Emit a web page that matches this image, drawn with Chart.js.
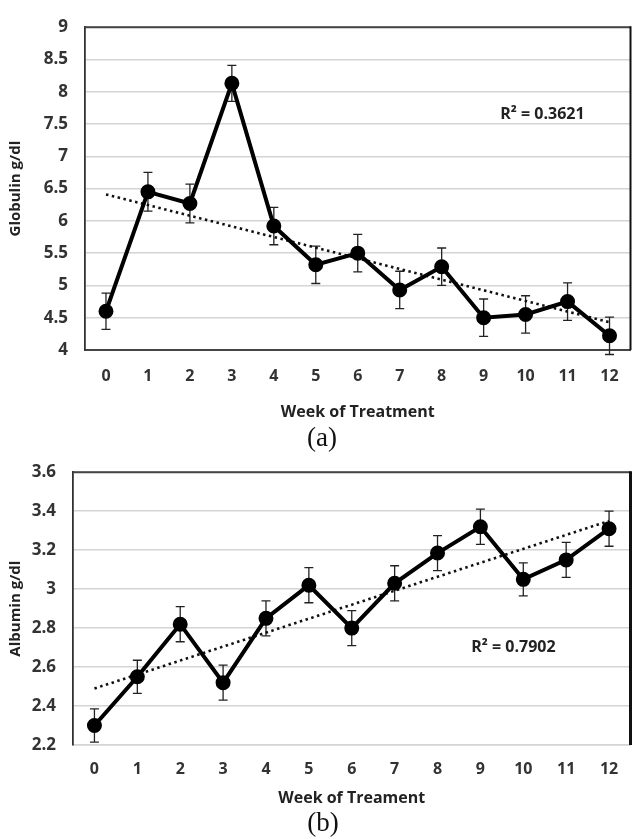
<!DOCTYPE html>
<html>
<head>
<meta charset="utf-8">
<script src="https://cdn.jsdelivr.net/npm/chart.js@4.4.1/dist/chart.umd.min.js"></script>
<style>
  body { margin: 0; background: #fff; width: 640px; height: 839px; position: relative; overflow: hidden; }
  .box { position: absolute; left: 0; width: 640px; }
  .cap { position: absolute; width: 60px; text-align: center; font-family: "Liberation Serif", serif; font-size: 27px; color: #111; line-height: 30px; }
</style>
</head>
<body>
<div class="box" style="top:0;height:425px"><canvas id="grafico1"></canvas></div>
<div class="cap" style="left:292px;top:422px">(a)</div>
<div class="box" style="top:445px;height:368px"><canvas id="grafico2"></canvas></div>
<div class="cap" style="left:293px;top:807px">(b)</div>
<script>
// dados
const semanas = ["0", "1", "2", "3", "4", "5", "6", "7", "8", "9", "10", "11", "12"]

const globulina = [4.6, 6.45, 6.27, 8.13, 5.92, 5.32, 5.5, 4.93, 5.29, 4.5, 4.55, 4.75, 4.22]
const globulinaErro = [0.28, 0.3, 0.3, 0.28, 0.29, 0.29, 0.29, 0.29, 0.29, 0.29, 0.29, 0.29, 0.29]
const globulinaTendencia = [6.41, 4.43]   // semana 0, semana 12

const albumina = [2.3, 2.55, 2.82, 2.52, 2.85, 3.02, 2.8, 3.03, 3.185, 3.32, 3.05, 3.15, 3.31]
const albuminaErro = [0.085, 0.085, 0.09, 0.09, 0.09, 0.09, 0.09, 0.09, 0.09, 0.09, 0.085, 0.09, 0.09]
const albuminaTendencia = [2.49, 3.35]

const ticksGlob = { min: 4, max: 9, step: 0.5 }
const ticksAlb = { min: 2.2, max: 3.6, step: 0.2 }

const fonte = "Open Sans"

function linhaTendencia(t) {
    return semanas.map((s, i) => i === 0 ? t[0] : (i === semanas.length - 1 ? t[1] : null))
}

// barras de erro + moldura + texto R²
const extras = {
    id: 'extras',
    beforeDatasetsDraw(chart, args, opts) {
        const ctx = chart.ctx
        const y = chart.scales.y
        const meta = chart.getDatasetMeta(0)
        const vals = chart.data.datasets[0].data
        ctx.save()
        ctx.strokeStyle = '#222'
        ctx.lineWidth = 1.3
        meta.data.forEach((p, i) => {
            const top = y.getPixelForValue(vals[i] + opts.erro[i])
            const bot = y.getPixelForValue(vals[i] - opts.erro[i])
            ctx.beginPath()
            ctx.moveTo(p.x, top); ctx.lineTo(p.x, bot)
            ctx.moveTo(p.x - 4.5, top); ctx.lineTo(p.x + 4.5, top)
            ctx.moveTo(p.x - 4.5, bot); ctx.lineTo(p.x + 4.5, bot)
            ctx.stroke()
        })
        ctx.restore()
    },
    afterDraw(chart, args, opts) {
        const ctx = chart.ctx
        const a = chart.chartArea
        ctx.save()
        ctx.strokeStyle = '#444'
        ctx.lineWidth = 2
        ctx.beginPath()
        ctx.moveTo(a.left, a.top); ctx.lineTo(a.right, a.top)
        ctx.stroke()
        ctx.strokeStyle = '#111'
        ctx.lineWidth = opts.direita
        ctx.beginPath()
        ctx.moveTo(a.right, a.top - 1); ctx.lineTo(a.right, a.bottom)
        ctx.stroke()
        // R²
        ctx.fillStyle = '#222'
        ctx.font = 'bold 16px ' + fonte
        ctx.textAlign = 'center'
        ctx.textBaseline = 'middle'
        ctx.fillText(opts.r2, chart.scales.x.getPixelForValue(opts.r2x), chart.scales.y.getPixelForValue(opts.r2y))
        ctx.restore()
    }
}

function criar(el, cfg) {
    return new Chart(document.getElementById(el), {
        type: 'line',
        data: {
            labels: semanas,
            datasets: [{
                data: cfg.valores,
                borderColor: '#000',
                backgroundColor: '#000',
                borderWidth: 4,
                pointRadius: 5.5,
                pointHoverRadius: 5.5,
                tension: 0,
                order: 1
            }, {
                data: linhaTendencia(cfg.tendencia),
                spanGaps: true,
                borderColor: '#111',
                borderWidth: 2.6,
                borderDash: [2.5, 3.5],
                pointRadius: 0,
                fill: false,
                order: 2
            }]
        },
        options: {
            responsive: true,
            maintainAspectRatio: false,
            animation: false,
            layout: { padding: { top: 12, right: 5, left: 0, bottom: 0 } },
            plugins: {
                legend: { display: false },
                tooltip: { enabled: false },
                extras: { erro: cfg.erro, r2: cfg.r2, r2x: cfg.r2x, r2y: cfg.r2y, direita: cfg.direita }
            },
            scales: {
                x: {
                    offset: true,
                    grid: { display: false, drawTicks: false },
                    border: { display: true, color: cfg.baseCor, width: cfg.baseLarg },
                    ticks: { color: '#333', font: { family: fonte, size: 16, weight: 'bold' }, padding: cfg.xPad },
                    title: { display: true, text: cfg.xTitulo, color: '#222', font: { family: fonte, size: 16, weight: 'bold' }, padding: { top: 0, bottom: cfg.tPad } },
                    afterFit: s => { s.height = cfg.xAltura }
                },
                y: {
                    min: cfg.ticks.min,
                    max: cfg.ticks.max,
                    grid: { color: '#d4d4d4', lineWidth: 1.5, drawTicks: false },
                    border: { display: true, color: '#333', width: 1.8 },
                    ticks: {
                        stepSize: cfg.ticks.step, color: '#333', font: { family: fonte, size: 17, weight: 'bold' }, padding: 17,
                        callback: v => String(+v.toFixed(2))
                    },
                    title: { display: true, text: cfg.yTitulo, color: '#222', font: { family: fonte, size: 15, weight: 'bold' }, padding: { top: 7, bottom: 0 } },
                    afterFit: s => { s.width = cfg.yLargura }
                }
            }
        },
        plugins: [extras]
    })
}

criar('grafico1', {
    valores: globulina, erro: globulinaErro, tendencia: globulinaTendencia, ticks: ticksGlob,
    yTitulo: 'Globulin g/dl', xTitulo: 'Week of Treatment',
    r2: 'R² = 0.3621', r2x: 10.4, r2y: 7.65,
    yLargura: 85, xAltura: 75, xPad: 17, tPad: 3, baseCor: '#444', baseLarg: 2, direita: 2
})

criar('grafico2', {
    valores: albumina, erro: albuminaErro, tendencia: albuminaTendencia, ticks: ticksAlb,
    yTitulo: 'Albumin g/dl', xTitulo: 'Week of Treament',
    r2: 'R² = 0.7902', r2x: 9.77, r2y: 2.70,
    yLargura: 73, xAltura: 68, xPad: 15, tPad: 5, baseCor: '#d4d4d4', baseLarg: 1.5, direita: 3
})
</script>
</body>
</html>
